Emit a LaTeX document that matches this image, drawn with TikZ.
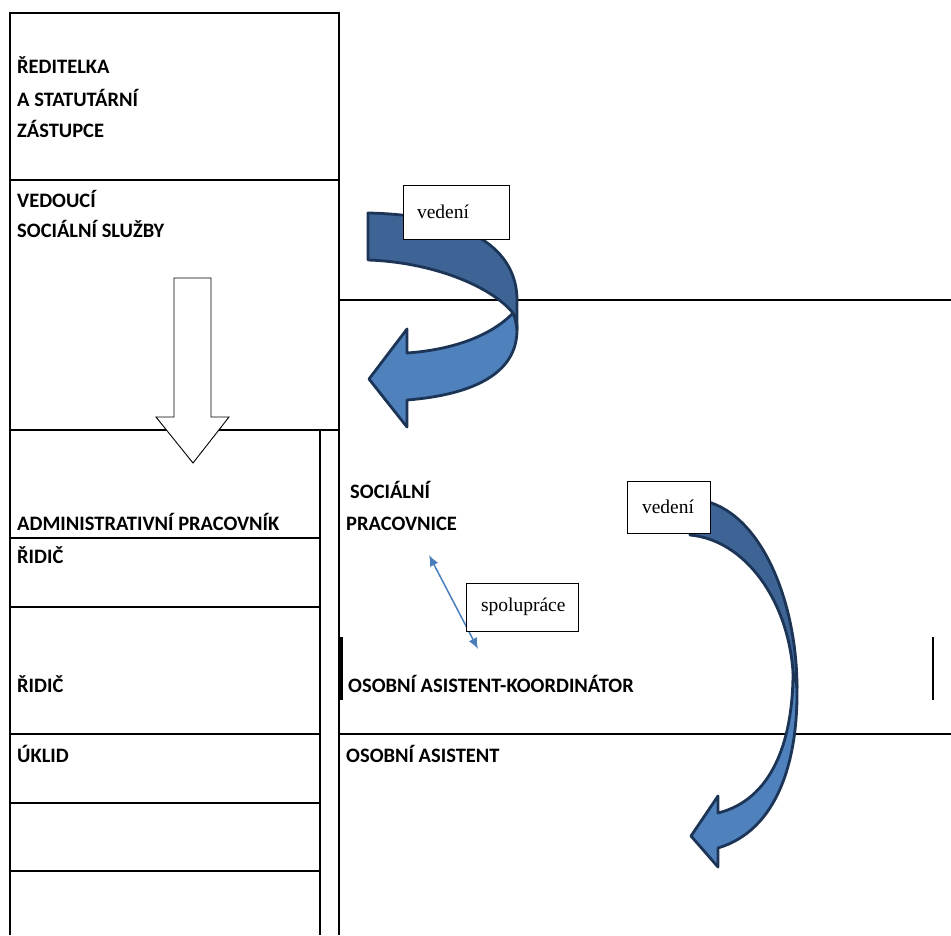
\documentclass[tikz,border=0pt]{standalone}
\usepackage{fontspec}
\newfontfamily\orgfont{Carlito}
\newfontfamily\notefont{Liberation Serif}
\usetikzlibrary{arrows.meta}
\definecolor{ribbondark}{RGB}{62,100,150}
\definecolor{ribbonlight}{RGB}{79,129,189}
\definecolor{ribbonline}{RGB}{28,52,86}
\definecolor{coopblue}{RGB}{74,126,187}
\tikzset{frame/.style={line width=2.8pt},
    orglabel/.style={anchor=base west,inner sep=0,font=\orgfont\bfseries\fontsize{20.5}{24}\selectfont},
    notebox/.style={draw,fill=white,line width=0.9pt,align=left,inner ysep=0,font=\notefont\fontsize{19.5}{22}\selectfont},
    ribbon/.style={draw=ribbonline,line width=2.8pt,line join=round},
    coop/.style={{Latex[length=11pt,width=9pt]}-{Latex[length=11pt,width=9pt]},coopblue,line width=1.5pt}
}

\begin{document}
\begin{tikzpicture}[x=1pt,y=-1pt]

\useasboundingbox (0,0) rectangle (951,935);

%% frame lines
% left block
\draw [frame] (10,935) -- (10,13) -- (339,13) -- (339,935);
\draw [frame] (10,180) -- (339,180);
\draw [frame] (10,430) -- (339,430);
\draw [frame] (320,430) -- (320,935);
\foreach \y in {538,607,734,803,871}
    \draw [frame] (10,\y) -- (320,\y);

% right block
\draw [frame] (339,300) -- (951,300);
\draw [frame] (339,734) -- (951,734);
\draw [line width=3.4pt] (341,637) -- (341,700);
\draw [frame] (933,637) -- (933,700);

%% labels
\node (reditelka) at (17,73) [orglabel] {ŘEDITELKA};
\node (statutar) at (17,106) [orglabel] {A STATUTÁRNÍ};
\node (zastupce) at (17,137) [orglabel] {ZÁSTUPCE};
\node (vedouci) at (17,207) [orglabel] {VEDOUCÍ};
\node (sluzby) at (17,237) [orglabel] {SOCIÁLNÍ SLUŽBY};
\node (admin) at (17,530) [orglabel] {ADMINISTRATIVNÍ PRACOVNÍK};
\node (ridicA) at (17,563) [orglabel] {ŘIDIČ};
\node (ridicB) at (17,692) [orglabel] {ŘIDIČ};
\node (uklid) at (17,762) [orglabel] {ÚKLID};
\node (socialni) at (350,498) [orglabel] {SOCIÁLNÍ};
\node (pracovnice) at (346,530) [orglabel] {PRACOVNICE};
\node (koordinator) at (348,692) [orglabel] {OSOBNÍ ASISTENT-KOORDINÁTOR};
\node (asistent) at (346,762) [orglabel] {OSOBNÍ ASISTENT};

%% down arrow (white)
\draw [line width=0.9pt,fill=white] (174,278) -- (211,278) -- (211,417) -- (229,417)
    -- (193,463) -- (156,417) -- (174,417) -- cycle;

%% upper curved arrow
\draw [ribbon,fill=ribbonlight] (513,313) .. controls (490,337) and (450,350) .. (407,353)
    -- (407,329) -- (369,379) -- (407,427) -- (407,400)
    .. controls (470,395) and (517,375) .. (517,330)
    .. controls (517,322) and (516,317) .. (513,313) -- cycle;
\draw [ribbon,fill=ribbondark] (368,213) .. controls (470,215) and (517,250) .. (517,300)
    -- (517,330) .. controls (516,322) and (515,317) .. (513,313)
    .. controls (490,285) and (430,262) .. (368,260) -- cycle;

%% lower curved arrow
\draw [ribbon,fill=ribbonlight] (793,672) .. controls (793,745) and (770,800) .. (718,813)
    -- (718,796) -- (691,836) -- (718,867) -- (718,848)
    .. controls (778,830) and (798,760) .. (797,688)
    .. controls (797,682) and (795,676) .. (793,672) -- cycle;
\draw [ribbon,fill=ribbondark] (700,500) .. controls (760,510) and (797,600) .. (797,688)
    .. controls (796,680) and (794,676) .. (793,672)
    .. controls (788,600) and (745,540) .. (690,535) -- cycle;

%% cooperation
\coordinate (coopTop) at (429,555);
\coordinate (coopBottom) at (478,649);
\draw [coop] (coopTop) -- (coopBottom);

%% note boxes
\node (vedeniA) at (456,212) [notebox,text width=78pt,inner xsep=14pt,minimum height=54pt] {vedení};
\node (vedeniB) at (668.5,507) [notebox,text width=53pt,inner xsep=15pt,minimum height=52pt] {vedení};
\node (spoluprace) at (522,607) [notebox,text width=82pt,inner xsep=15pt,minimum height=48pt] {spolupráce};

\end{tikzpicture}
\end{document}
